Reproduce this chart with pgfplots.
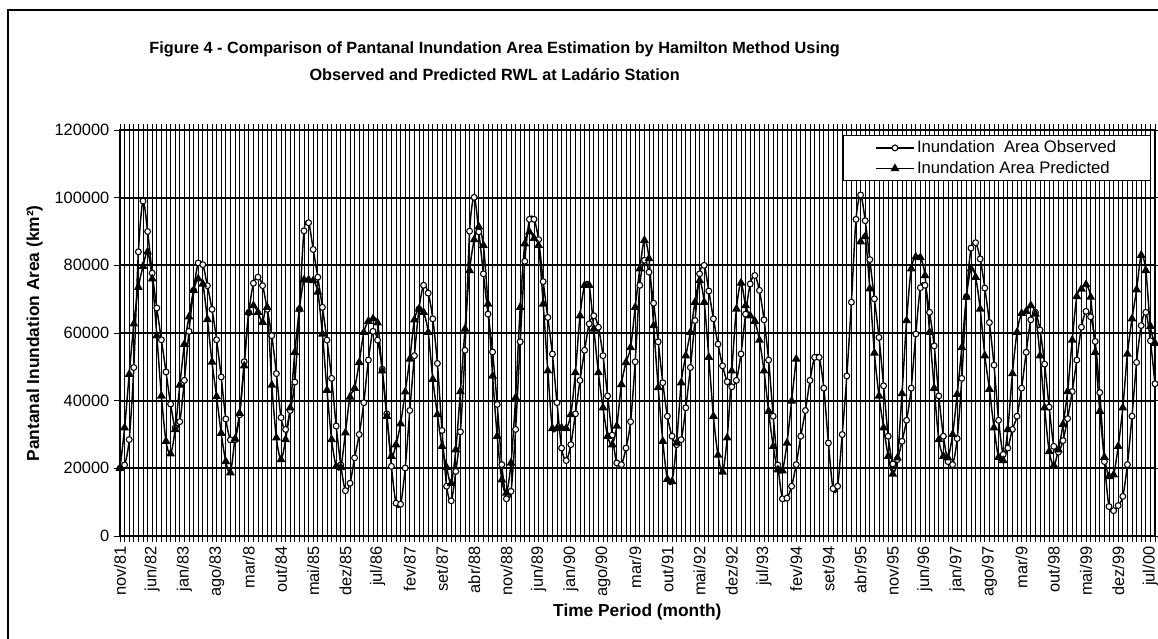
\documentclass[border=0pt]{standalone}
\usepackage{fontspec}
\setmainfont{Liberation Sans}
\usepackage{pgfplots}
\usepackage{pgfplotstable}
\pgfplotsset{compat=1.18}

% monthly values, index 0 = nov/81
\pgfplotstableread{
i obs pred
0 20000 20000
1 21000 32000
2 28500 47800
3 49800 62700
4 84000 73500
5 99000 79700
6 90000 84000
7 77700 76000
8 67400 59200
9 58000 41400
10 48500 28000
11 39000 24300
12 32000 31500
13 33800 44600
14 46000 56700
15 60500 64800
16 72600 72600
17 80700 76000
18 80200 74500
19 74000 64000
20 67000 51400
21 58000 41200
22 47000 30400
23 34600 22000
24 28400 18700
25 28400 28700
26 35800 36300
27 51500 50300
28 66000 66100
29 74700 68100
30 76500 66100
31 74000 63200
32 67000 67600
33 59200 44600
34 48000 29000
35 35000 22600
36 31500 28500
37 37100 37900
38 45500 54300
39 67000 67100
40 90200 75700
41 92600 75700
42 84700 75500
43 76500 72100
44 67600 59700
45 57900 43100
46 46600 28500
47 32500 20600
48 21000 20300
49 13400 30500
50 15600 41100
51 23100 43700
52 30000 51300
53 39400 60200
54 52000 63500
55 60500 64200
56 57900 63000
57 49300 48800
58 36100 35400
59 20600 23600
60 9700 27000
61 9400 33200
62 20100 42600
63 37100 52300
64 53300 63900
65 67100 67100
66 74100 66100
67 71800 60200
68 64200 46300
69 51000 35900
70 31200 26500
71 14700 20300
72 10400 15600
73 19100 25500
74 30800 42700
75 54900 61200
76 90100 78500
77 100100 87600
78 89900 91400
79 77500 85900
80 65600 68600
81 54400 47300
82 38900 29500
83 21100 16600
84 11000 12700
85 13200 21600
86 31500 40900
87 57400 67600
88 81200 86400
89 93600 89900
90 93600 88000
91 87600 85900
92 75200 68600
93 64600 48800
94 53800 31800
95 39400 31800
96 26000 32000
97 22300 31800
98 27000 35900
99 36100 48300
100 46000 65100
101 54900 74100
102 62700 74100
103 65100 61200
104 61700 48300
105 53300 37900
106 41400 29500
107 29800 27000
108 21600 32500
109 21100 44800
110 26000 51300
111 33800 55700
112 51500 67600
113 74100 79000
114 81500 87400
115 78000 82000
116 68800 62200
117 57400 43900
118 45300 28000
119 35400 16800
120 29500 16100
121 27000 27500
122 28500 45300
123 37900 53300
124 49800 60200
125 63700 69100
126 77500 75500
127 80000 69100
128 72400 52800
129 64200 35400
130 56700 23900
131 50300 18900
132 45600 29000
133 44100 48800
134 46000 67100
135 53800 74800
136 65600 68100
137 74500 65100
138 77000 63500
139 72600 57900
140 63900 48800
141 52000 36900
142 35400 26500
143 21000 19600
144 11000 19300
145 11200 27500
146 14700 39900
147 21100 52300
148 29500 nan
149 37100 nan
150 46000 nan
151 52800 nan
152 52800 nan
153 43700 nan
154 27500 nan
155 14000 nan
156 14700 nan
157 30000 nan
158 47300 nan
159 69100 nan
160 93600 nan
161 100800 87000
162 93200 88500
163 81700 73100
164 70100 54100
165 58700 41400
166 44400 32000
167 29500 23600
168 21300 18300
169 22600 23100
170 28000 42100
171 34200 63700
172 43700 79000
173 59700 82500
174 73400 82300
175 74100 77000
176 66100 60200
177 56200 43700
178 41400 28500
179 29500 23600
180 22000 23100
181 21100 30000
182 28800 41900
183 46600 55700
184 70700 70600
185 85100 79000
186 86700 76500
187 81900 67100
188 73300 53300
189 63100 43400
190 50500 32000
191 34200 23300
192 24100 22300
193 26000 31500
194 31500 48000
195 35400 60200
196 43700 65800
197 54300 66400
198 63900 68100
199 66100 65600
200 60900 53300
201 50800 37900
202 38100 25000
203 26500 20900
204 24800 25500
205 28200 33000
206 34700 42700
207 42700 57900
208 52000 70800
209 61700 73000
210 66400 74300
211 64800 70600
212 57500 54300
213 42400 36900
214 22000 23300
215 8700 17600
216 7500 18100
217 9000 26500
218 11700 37900
219 21100 53800
220 35400 64200
221 51300 72800
222 62200 83000
223 66100 78500
224 57700 62000
225 45000 57000
}\inundation

\begin{document}
\begin{tikzpicture}
\useasboundingbox (0,0) rectangle (868.5pt,-479.25pt);
\draw[line width=1.5pt] (6pt,-480pt) -- (6pt,-7.5pt) -- (869pt,-7.5pt);

\node[font=\fontsize{12.2}{20.25}\selectfont\bfseries, align=center] at (371pt,-46pt)
  {Figure 4 - Comparison of Pantanal Inundation Area Estimation by Hamilton Method Using\\
   Observed and Predicted RWL at Ladário Station};

\begin{axis}[
    at={(90pt,-402pt)}, anchor=south west,
    scale only axis, width=776.25pt, height=304.5pt,
    xmin=0, xmax=225, ymin=0, ymax=120000,
    xtick={0,7,...,224},
    xticklabels={nov/81,jun/82,jan/83,ago/83,mar/8,out/84,mai/85,dez/85,jul/86,fev/87,set/87,abr/88,nov/88,jun/89,jan/90,ago/90,mar/9,out/91,mai/92,dez/92,jul/93,fev/94,set/94,abr/95,nov/95,jun/96,jan/97,ago/97,mar/9,out/98,mai/99,dez/99,jul/00},
    minor xtick={0,1,...,225},
    ytick={0,20000,...,120000},
    scaled y ticks=false,
    yticklabel style={/pgf/number format/fixed, /pgf/number format/1000 sep={}},
    /pgf/number format/assume math mode=true,
    tick label style={font=\fontsize{12.3}{14}\selectfont, black},
    xticklabel style={rotate=90, anchor=east},
    tick align=outside, major tick length=4.5pt, minor tick length=4.5pt,
    tick style={black, line width=0.6pt},
    xmajorgrids, xminorgrids, ymajorgrids,
    x grid style={black, line width=0.65pt},
    y grid style={black, line width=1.3pt},
    axis line style={black, line width=1pt},
    clip=false,
    legend cell align=left,
    legend style={at={(0.6986,0.9877)}, anchor=north west, draw=black, line width=0.75pt,
        font=\fontsize{12.5}{14}\selectfont, inner xsep=24pt, inner ysep=2pt, row sep=1pt},
    legend image code/.code={\draw[mark repeat=2,mark phase=2,#1] plot coordinates {(0pt,0pt) (14pt,0pt) (28pt,0pt)};},
]
\addplot[black, line width=1.1pt, smooth, mark=*, mark size=2.2pt,
    mark options={fill=white, draw=black, line width=0.8pt}] table[x=i, y=obs] {\inundation};
\addlegendentry{Inundation\space\space Area Observed}
\addplot[black, line width=1.1pt, smooth, mark=triangle*, mark size=2.8pt,
    unbounded coords=jump] table[x=i, y=pred] {\inundation};
\addlegendentry{Inundation Area Predicted}
\end{axis}

\node[font=\fontsize{13}{15}\selectfont\bfseries, rotate=90] at (26pt,-250pt) {Pantanal Inundation Area (km²)};
\node[font=\fontsize{13}{15}\selectfont\bfseries] at (478pt,-459pt) {Time Period (month)};
\end{tikzpicture}
\end{document}
